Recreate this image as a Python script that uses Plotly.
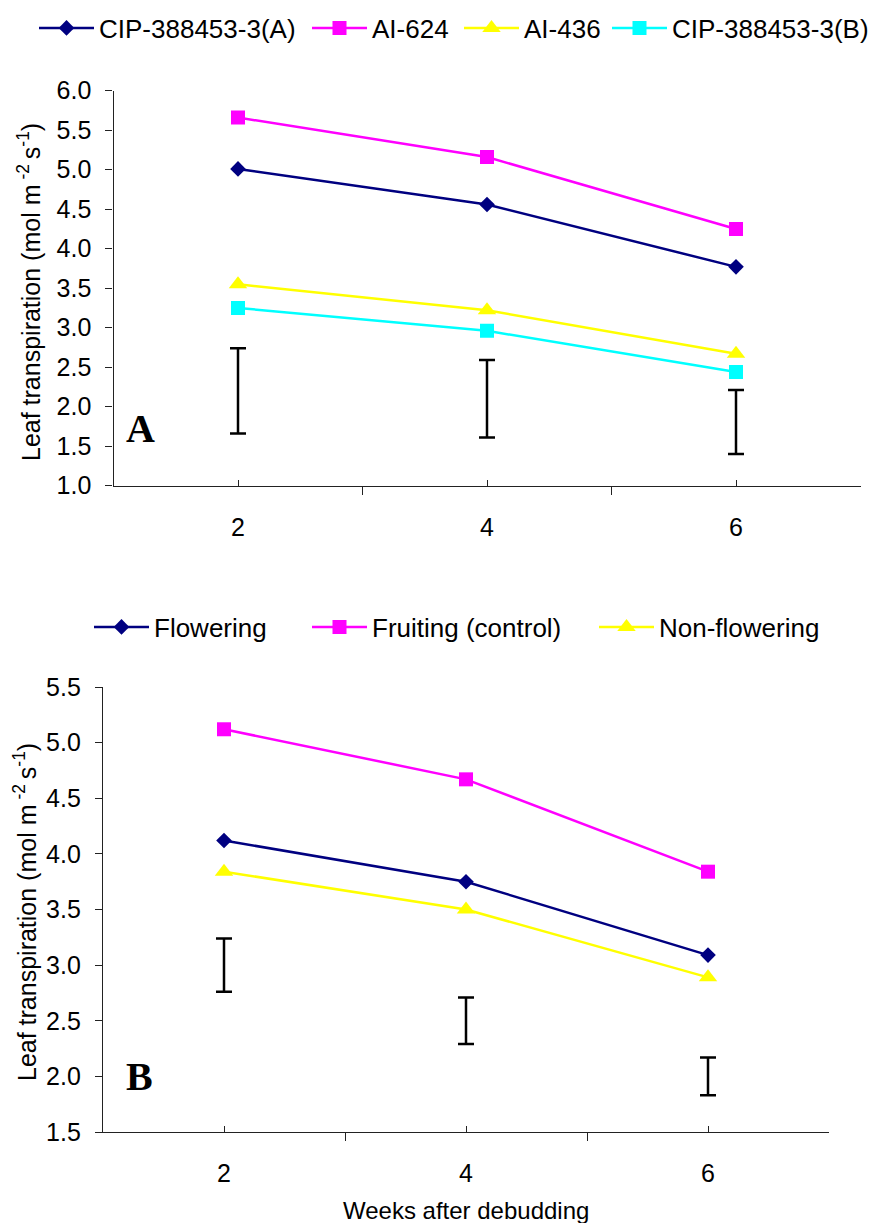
import plotly.graph_objects as go

# ---------------- data ----------------
weeks = [2, 4, 6]

# Panel A (genotypes)
names_a = ["CIP-388453-3(A)", "AI-624", "AI-436", "CIP-388453-3(B)"]
cip_a = [5.01, 4.56, 3.77]
ai_624 = [5.66, 5.16, 4.25]
ai_436 = [3.55, 3.22, 2.67]
cip_b = [3.25, 2.96, 2.44]
lsd_a_low = [1.66, 1.61, 1.40]
lsd_a_high = [2.74, 2.59, 2.21]

# Panel B (treatments)
names_b = ["Flowering", "Fruiting (control)", "Non-flowering"]
flowering = [4.12, 3.75, 3.09]
fruiting = [5.12, 4.67, 3.84]
non_flowering = [3.84, 3.50, 2.89]
lsd_b_low = [2.76, 2.29, 1.83]
lsd_b_high = [3.24, 2.71, 2.17]

y_ticks_a = [1.0, 1.5, 2.0, 2.5, 3.0, 3.5, 4.0, 4.5, 5.0, 5.5, 6.0]
y_ticks_b = [1.5, 2.0, 2.5, 3.0, 3.5, 4.0, 4.5, 5.0, 5.5]

# ---------------- styling ----------------
PAGE_OFF = 8                      # default body margin of the html page
W, H = 877 - PAGE_OFF, 1223 - PAGE_OFF
FONT = "Liberation Sans, Arial, sans-serif"
AX = "#222222"

def fx(px):
    return (px - PAGE_OFF) / W

def fy(py):
    return 1 - (py - PAGE_OFF) / H

navy, magenta, yellow, cyan = "#000080", "#FF00FF", "#FFFF00", "#00FFFF"

fig = go.Figure()

series_a = [
    (names_a[0], cip_a, navy, "diamond", 12),
    (names_a[1], ai_624, magenta, "square", 14),
    (names_a[2], ai_436, yellow, "triangle-up", 16),
    (names_a[3], cip_b, cyan, "square", 14),
]
series_b = [
    (names_b[0], flowering, navy, "diamond", 12),
    (names_b[1], fruiting, magenta, "square", 14),
    (names_b[2], non_flowering, yellow, "triangle-up", 16),
]

# legend text start positions (px) in the reference
leg_a_text = [100, 373, 525, 673]
leg_b_text = [155, 373, 660]
leg_a_y = 28
leg_b_y = 627
ITEM_W = 55
LEG_OFF = ITEM_W + 11

legends = {}
k = 1
for (name, vals, col, sym, sz), tx in zip(series_a, leg_a_text):
    lname = "legend" if k == 1 else f"legend{k}"
    fig.add_trace(go.Scatter(
        x=weeks, y=vals, name=name, mode="lines+markers",
        line=dict(color=col, width=2.5),
        marker=dict(color=col, symbol=sym, size=sz),
        xaxis="x", yaxis="y", legend=lname))
    legends[lname] = dict(x=fx(tx - LEG_OFF), y=fy(leg_a_y), xanchor="left", yanchor="middle",
                          orientation="h", font=dict(family=FONT, size=26, color="black"),
                          bgcolor="rgba(0,0,0,0)", itemwidth=ITEM_W)
    k += 1

for (name, vals, col, sym, sz), tx in zip(series_b, leg_b_text):
    lname = f"legend{k}"
    fig.add_trace(go.Scatter(
        x=weeks, y=vals, name=name, mode="lines+markers",
        line=dict(color=col, width=2.5),
        marker=dict(color=col, symbol=sym, size=sz),
        xaxis="x2", yaxis="y2", legend=lname))
    legends[lname] = dict(x=fx(tx - LEG_OFF), y=fy(leg_b_y), xanchor="left", yanchor="middle",
                          orientation="h", font=dict(family=FONT, size=26, color="black"),
                          bgcolor="rgba(0,0,0,0)", itemwidth=ITEM_W)
    k += 1

# LSD bars
for lows, highs, xa, ya in [(lsd_a_low, lsd_a_high, "x", "y"), (lsd_b_low, lsd_b_high, "x2", "y2")]:
    mids = [(a + b) / 2 for a, b in zip(lows, highs)]
    fig.add_trace(go.Scatter(
        x=weeks, y=mids, mode="markers", showlegend=False, hoverinfo="skip",
        marker=dict(size=1, color="rgba(0,0,0,0)"),
        error_y=dict(type="data", symmetric=False,
                     array=[h - m for h, m in zip(highs, mids)],
                     arrayminus=[m - l for m, l in zip(mids, lows)],
                     color="black", thickness=2.5, width=8),
        xaxis=xa, yaxis=ya))

def xaxis_cfg(dom, anchor):
    return dict(domain=dom, anchor=anchor, range=[1, 7], automargin=False,
                tickmode="array", tickvals=weeks, ticktext=[str(w) for w in weeks],
                ticks="inside", ticklen=6, tickwidth=1, tickcolor=AX,
                minor=dict(tickmode="array", tickvals=[1, 3, 5, 7], ticks="outside",
                           ticklen=8, tickwidth=1, tickcolor=AX),
                showline=True, linecolor=AX, linewidth=1.3,
                showgrid=False, zeroline=False,
                tickfont=dict(family=FONT, size=25, color="black"),
                ticklabelstandoff=19, fixedrange=True)

def yaxis_cfg(dom, anchor, rng, tv):
    return dict(domain=dom, anchor=anchor, range=rng, automargin=False,
                tickmode="array", tickvals=tv, ticktext=[f"{v:.1f}" for v in tv],
                ticks="outside", ticklen=7, tickwidth=1, tickcolor=AX,
                showline=True, linecolor=AX, linewidth=1.3,
                showgrid=False, zeroline=False,
                tickfont=dict(family=FONT, size=25, color="black"),
                ticklabelstandoff=9, fixedrange=True)

ytitle = "Leaf transpiration (mol m<sup> -2 </sup>s<sup>-1</sup>)"

fig.update_layout(
    template="none",
    width=W, height=H,
    margin=dict(l=0, r=0, t=0, b=0, pad=0, autoexpand=False),
    paper_bgcolor="white", plot_bgcolor="white",
    showlegend=True,
    xaxis=xaxis_cfg([fx(113.5), fx(860.5)], "y"),
    yaxis=yaxis_cfg([fy(485.7), fy(90.7)], "x", [1, 6], y_ticks_a),
    xaxis2=xaxis_cfg([fx(103), fx(829)], "y2"),
    yaxis2=yaxis_cfg([fy(1132), fy(687)], "x2", [1.5, 5.5], y_ticks_b),
    annotations=[
        dict(text=ytitle, x=fx(29), y=fy(292), xref="paper", yref="paper",
             textangle=-90, showarrow=False, xanchor="center", yanchor="middle",
             font=dict(family=FONT, size=25, color="black")),
        dict(text=ytitle, x=fx(25), y=fy(912), xref="paper", yref="paper",
             textangle=-90, showarrow=False, xanchor="center", yanchor="middle",
             font=dict(family=FONT, size=25, color="black")),
        dict(text="<b>A</b>", x=fx(140), y=fy(428), xref="paper", yref="paper",
             showarrow=False, xanchor="center", yanchor="middle",
             font=dict(family="Liberation Serif, Times New Roman, serif", size=40, color="black")),
        dict(text="<b>B</b>", x=fx(139), y=fy(1076), xref="paper", yref="paper",
             showarrow=False, xanchor="center", yanchor="middle",
             font=dict(family="Liberation Serif, Times New Roman, serif", size=40, color="black")),
        dict(text="Weeks after debudding", x=fx(466), y=fy(1210), xref="paper", yref="paper",
             showarrow=False, xanchor="center", yanchor="middle",
             font=dict(family=FONT, size=24, color="black")),
    ],
    **legends,
)

fig.write_html("out.html")
